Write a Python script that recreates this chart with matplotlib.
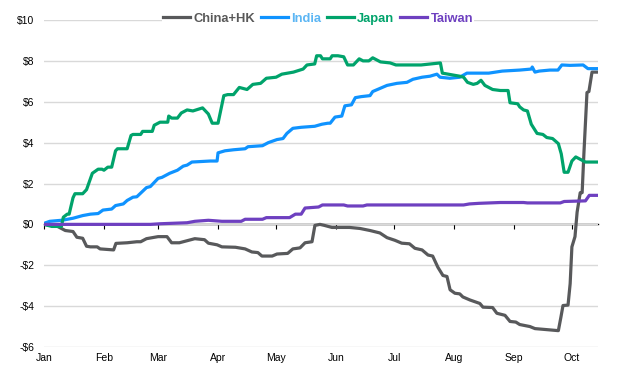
import matplotlib
matplotlib.use("Agg")
import matplotlib.pyplot as plt
from matplotlib.lines import Line2D

plt.rcParams['font.family'] = ['Liberation Sans', 'DejaVu Sans']

# x values: days since Jan 1
month_days = [0, 31, 59, 90, 120, 151, 181, 212, 243, 273]
month_labels = ["Jan", "Feb", "Mar", "Apr", "May", "Jun", "Jul", "Aug", "Sep", "Oct"]
y_ticks = [-6, -4, -2, 0, 2, 4, 6, 8, 10]

china_days = [0, 7, 11, 15, 17, 20, 22, 24, 27.5, 29, 36, 37.2, 43, 48, 50, 53, 56, 59, 63.6, 66, 70, 74, 78, 83,
              85, 89.5, 92, 99, 104, 107.5, 110.6, 112.7, 118, 120.5, 126, 128.7, 132.4, 135, 138.6, 140.1, 142.7,
              145, 148.9, 158, 163.4, 168.6, 173.7, 177.4, 181.5, 185, 189, 191.8, 195.5, 198.6, 201, 203.7, 206.3,
              208.4, 210, 212.5, 215, 216.6, 220.3, 225.4, 227, 232, 234.2, 238.4, 241, 244, 246, 251.3, 253.9, 260,
              266, 267.3, 268.4, 271, 272.1, 273, 274.6, 275.7, 277.3, 278.3, 279.2, 280.8, 281.8, 283.4, 286.5]
china_vals = [0.0, -0.1, -0.3, -0.35, -0.63, -0.68, -1.07, -1.1, -1.1, -1.2, -1.25, -0.93, -0.9, -0.85, -0.85, -0.7,
              -0.65, -0.6, -0.6, -0.9, -0.9, -0.8, -0.7, -0.75, -0.92, -1.0, -1.1, -1.12, -1.2, -1.35, -1.38, -1.55,
              -1.55, -1.45, -1.42, -1.2, -1.15, -0.9, -0.85, -0.05, 0.0, -0.05, -0.15, -0.15, -0.2, -0.3, -0.42,
              -0.65, -0.78, -0.92, -0.95, -1.17, -1.25, -1.5, -1.55, -2.1, -2.5, -2.55, -3.2, -3.37, -3.4, -3.55,
              -3.7, -3.87, -4.05, -4.07, -4.35, -4.45, -4.75, -4.78, -4.9, -5.0, -5.1, -5.15, -5.2, -4.55, -3.97,
              -3.95, -2.9, -1.1, -0.6, 0.6, 1.55, 1.55, 3.45, 6.45, 6.5, 7.45, 7.45]

india_days = [0, 3, 9, 11, 15, 20, 24, 28, 30.5, 35, 37, 41, 43, 46, 48, 53, 55, 59, 61, 65, 69, 72, 74, 76.5, 86,
              89.5, 90, 93.6, 98, 104, 105.5, 113, 116, 120.5, 123.6, 125.6, 128.7, 133, 140, 143.7, 146.8, 148,
              150.5, 154, 155.6, 159, 161, 164, 168.6, 170, 173.7, 177.4, 182.5, 187.7, 190.8, 195.5, 199.6, 203.2,
              204.8, 209.9, 215, 218.7, 230, 237, 246, 252, 252.5, 253.9, 256, 261.6, 265.8, 267.8, 272, 278.8,
              281.3, 286.5]
india_vals = [0.05, 0.15, 0.2, 0.23, 0.3, 0.43, 0.5, 0.53, 0.7, 0.75, 0.92, 1.0, 1.17, 1.33, 1.35, 1.8, 1.85, 2.25,
              2.3, 2.5, 2.65, 2.85, 2.9, 3.05, 3.1, 3.1, 3.5, 3.6, 3.65, 3.7, 3.8, 3.85, 4.0, 4.15, 4.2, 4.45, 4.7,
              4.75, 4.8, 4.9, 4.95, 4.95, 5.25, 5.3, 5.8, 5.85, 6.2, 6.25, 6.3, 6.5, 6.65, 6.8, 6.9, 6.95, 7.1, 7.2,
              7.25, 7.35, 7.2, 7.15, 7.2, 7.4, 7.4, 7.5, 7.55, 7.6, 7.7, 7.45, 7.5, 7.55, 7.55, 7.8, 7.78, 7.8,
              7.62, 7.62]

japan_days = [0, 4, 9, 10, 12, 13, 15, 16, 20, 22, 25, 28, 30, 31, 33, 35, 37, 38, 43, 45, 46, 50, 51, 56, 57, 60,
              64, 64.5, 66, 69, 71, 74, 77, 82, 85, 87, 90, 93, 95, 98, 101, 105, 108, 112, 115, 120, 123, 126, 129,
              134, 136, 140, 141, 143, 144, 148, 149, 152, 155, 157, 160, 163, 165, 168, 170, 174, 179, 182, 195,
              205, 206, 212, 215, 217, 219, 222, 224, 226, 228, 232, 236, 240, 241, 245, 246, 248, 250, 252, 255,
              258, 260, 263, 266, 267.5, 269, 271, 273, 275, 277, 280, 286.5]
japan_vals = [0.0, -0.1, -0.1, 0.35, 0.5, 0.5, 1.3, 1.5, 1.5, 1.7, 2.5, 2.7, 2.7, 2.65, 2.8, 2.8, 3.6, 3.7, 3.7,
              4.35, 4.4, 4.4, 4.55, 4.55, 4.85, 5.0, 5.0, 5.3, 5.2, 5.2, 5.45, 5.6, 5.55, 5.7, 5.4, 4.95, 4.95, 6.3,
              6.35, 6.35, 6.7, 6.6, 6.85, 6.9, 7.15, 7.2, 7.35, 7.4, 7.45, 7.6, 7.8, 7.85, 8.25, 8.25, 8.1, 8.1,
              8.25, 8.25, 8.2, 7.8, 7.8, 8.1, 8.0, 8.0, 8.15, 7.95, 7.9, 7.8, 7.8, 7.9, 7.4, 7.3, 7.25, 7.2, 6.95,
              6.85, 6.9, 7.05, 6.8, 6.6, 6.55, 6.55, 5.95, 5.9, 5.75, 5.6, 5.55, 4.9, 4.45, 4.4, 4.25, 4.2, 3.95,
              3.45, 2.55, 2.55, 3.1, 3.3, 3.2, 3.05, 3.05]

taiwan_days = [0, 55, 60, 74, 78, 85, 92, 102, 104, 113, 115, 127, 130, 133, 135, 142, 144, 155, 157, 165, 167, 217,
               220, 225, 236, 248, 250, 267, 269, 280, 282, 286.5]
taiwan_vals = [0.0, 0.0, 0.03, 0.08, 0.15, 0.2, 0.15, 0.15, 0.25, 0.25, 0.33, 0.33, 0.5, 0.5, 0.8, 0.85, 0.95, 0.95,
               0.9, 0.9, 0.95, 0.95, 1.0, 1.03, 1.07, 1.07, 1.05, 1.05, 1.12, 1.15, 1.42, 1.42]

series = [
    ("China+HK", china_days, china_vals, "#58595b", "#595959"),
    ("India", india_days, india_vals, "#0f93ff", "#5cb6f4"),
    ("Japan", japan_days, japan_vals, "#00a36b", "#00a36b"),
    ("Taiwan", taiwan_days, taiwan_vals, "#6e40c0", "#6e40c0"),
]

fig = plt.figure(figsize=(6.4, 3.79), dpi=100)
ax = fig.add_axes([44/640, 1-347/379, (598-44)/640, (347-20)/379])

for name, d, v, c, tc in series:
    ax.plot(d, v, color=c, lw=2.3, solid_joinstyle='round', solid_capstyle='butt', zorder=3)

ax.set_xlim(0, 286.5)
ax.set_ylim(-6, 10)
ax.set_yticks(y_ticks)
ax.set_yticklabels([("-$%d" % -t) if t < 0 else ("$%d" % t) for t in y_ticks])
ax.yaxis.grid(True, color="#d9d9d9", lw=1)
ax.set_axisbelow(True)
for s in ax.spines.values():
    s.set_visible(False)
ax.tick_params(axis='y', length=0, pad=7, labelsize=7.5, labelcolor="#000000")
ax.set_xticks(month_days)
ax.set_xticklabels(month_labels)
ax.tick_params(axis='x', length=0, pad=4, labelsize=7.5)

# zero axis line with month ticks
sec = ax.secondary_xaxis(6/16)
sec.set_xticks(month_days)
sec.set_xticklabels([])
sec.tick_params(axis='x', direction='out', length=3.5, width=0.8, color="black")
sec.spines['bottom'].set_color("black")
sec.spines['bottom'].set_linewidth(1.0)

handles = [Line2D([0], [0], color=c, lw=2.3) for _, _, _, c, _ in series]
leg = fig.legend(handles, [s[0] for s in series], loc='center', bbox_to_anchor=(0.497, 0.95), ncol=4,
                 frameon=True, framealpha=1, facecolor='white', edgecolor='none',
                 prop={'weight': 'bold', 'size': 9.3}, handlelength=2.1, handletextpad=0.25,
                 columnspacing=0.45, borderpad=0.1, fancybox=False)
for t, s in zip(leg.get_texts(), series):
    t.set_color(s[4])

fig.savefig("out.png", dpi=100)
